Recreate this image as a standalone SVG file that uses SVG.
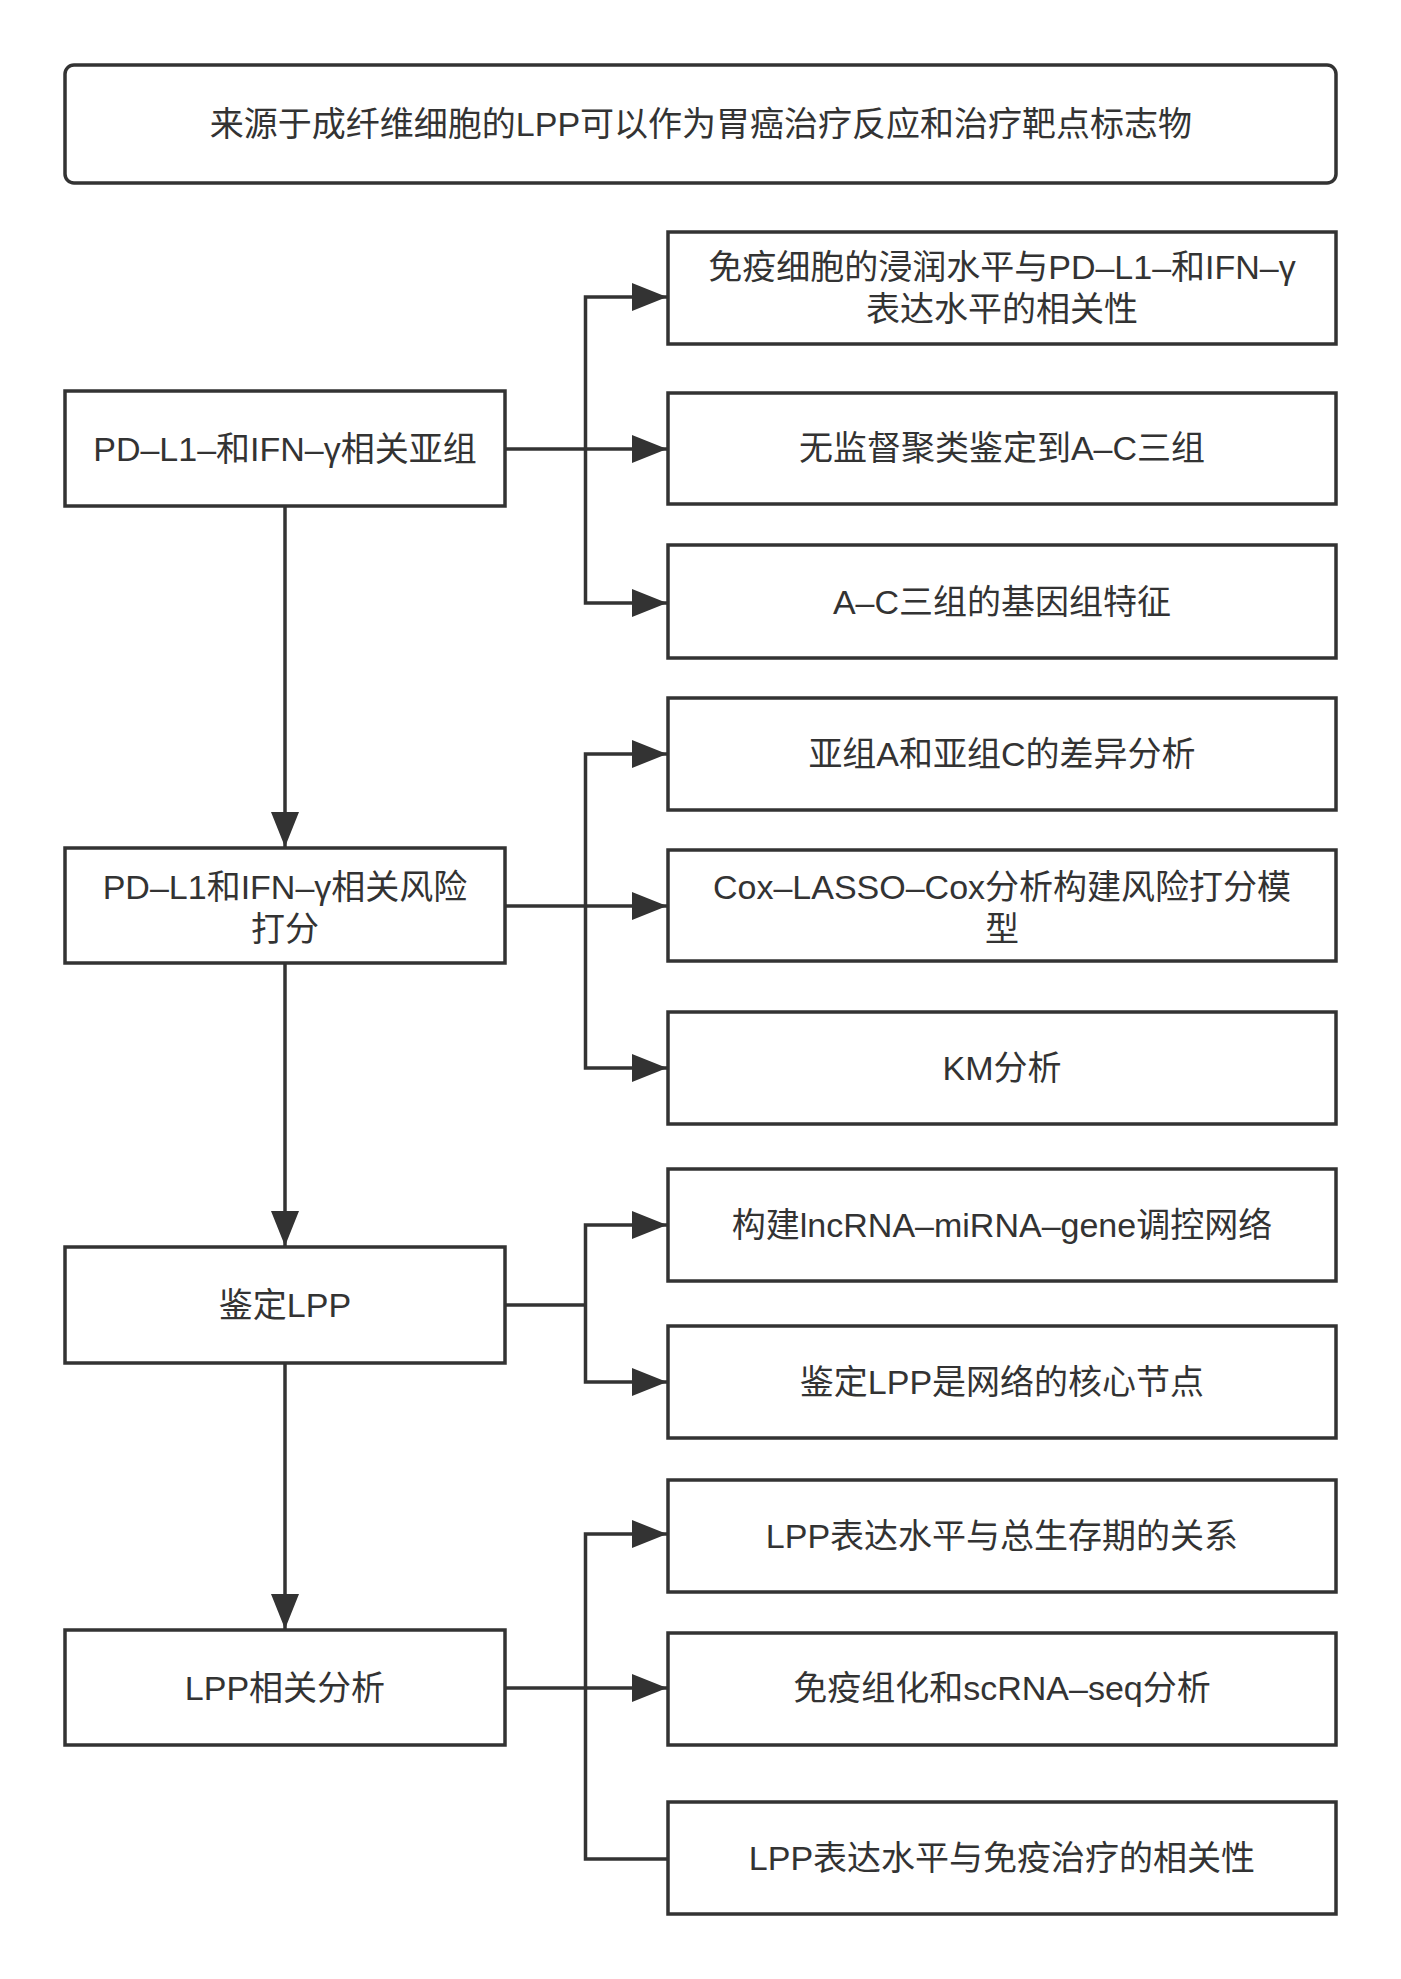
<svg xmlns="http://www.w3.org/2000/svg" width="1401" height="1979" viewBox="0 0 1401 1979">
<defs>
<style>
.box{fill:#ffffff;stroke:#333333;stroke-width:3.5}
.t{font-family:"Liberation Sans","Noto Sans CJK SC",sans-serif;font-size:34px;fill:#333333;text-anchor:middle;dominant-baseline:central}
.c{fill:none;stroke:#333333;stroke-width:3.5}
</style>
<marker id="ah" markerUnits="userSpaceOnUse" markerWidth="36" markerHeight="30" refX="35" refY="15" orient="auto">
<path d="M0,1 L35,15 L0,29 Z" fill="#333333"/>
</marker>
</defs>
<rect width="1401" height="1979" fill="#ffffff"/>

<g id="connectors">
<path class="c" d="M285,507 V847" marker-end="url(#ah)"/>
<path class="c" d="M285,964 V1246" marker-end="url(#ah)"/>
<path class="c" d="M285,1363 V1629" marker-end="url(#ah)"/>
<path class="c" d="M505,449 H667" marker-end="url(#ah)"/>
<path class="c" d="M585.5,449 V297 H667" marker-end="url(#ah)"/>
<path class="c" d="M585.5,449 V603 H667" marker-end="url(#ah)"/>
<path class="c" d="M505,906 H667" marker-end="url(#ah)"/>
<path class="c" d="M585.5,906 V754 H667" marker-end="url(#ah)"/>
<path class="c" d="M585.5,906 V1068 H667" marker-end="url(#ah)"/>
<path class="c" d="M505,1305 H585.5"/>
<path class="c" d="M585.5,1305 V1225 H667" marker-end="url(#ah)"/>
<path class="c" d="M585.5,1305 V1382 H667" marker-end="url(#ah)"/>
<path class="c" d="M505,1688 H667" marker-end="url(#ah)"/>
<path class="c" d="M585.5,1688 V1534 H667" marker-end="url(#ah)"/>
<path class="c" d="M585.5,1688 V1859 H668"/>
</g>

<g id="title">
<rect class="box" x="65" y="65" width="1271" height="118" rx="9"/>
<text class="t" x="701" y="124">来源于成纤维细胞的LPP可以作为胃癌治疗反应和治疗靶点标志物</text>
</g>

<g id="L1">
<rect class="box" x="65" y="391" width="440" height="115"/>
<text class="t" x="285" y="449">PD–L1–和IFN–γ相关亚组</text>
</g>
<g id="L2">
<rect class="box" x="65" y="848" width="440" height="115"/>
<text class="t" x="285" y="887">PD–L1和IFN–γ相关风险</text>
<text class="t" x="285" y="929">打分</text>
</g>
<g id="L3">
<rect class="box" x="65" y="1247" width="440" height="116"/>
<text class="t" x="285" y="1305">鉴定LPP</text>
</g>
<g id="L4">
<rect class="box" x="65" y="1630" width="440" height="115"/>
<text class="t" x="285" y="1688">LPP相关分析</text>
</g>

<g id="R1">
<rect class="box" x="668" y="232" width="668" height="112"/>
<text class="t" x="1002" y="267">免疫细胞的浸润水平与PD–L1–和IFN–γ</text>
<text class="t" x="1002" y="309">表达水平的相关性</text>
</g>
<g id="R2">
<rect class="box" x="668" y="393" width="668" height="111"/>
<text class="t" x="1002" y="448">无监督聚类鉴定到A–C三组</text>
</g>
<g id="R3">
<rect class="box" x="668" y="545" width="668" height="113"/>
<text class="t" x="1002" y="602">A–C三组的基因组特征</text>
</g>
<g id="R4">
<rect class="box" x="668" y="698" width="668" height="112"/>
<text class="t" x="1002" y="754">亚组A和亚组C的差异分析</text>
</g>
<g id="R5">
<rect class="box" x="668" y="850" width="668" height="111"/>
<text class="t" x="1002" y="887">Cox–LASSO–Cox分析构建风险打分模</text>
<text class="t" x="1002" y="929">型</text>
</g>
<g id="R6">
<rect class="box" x="668" y="1012" width="668" height="112"/>
<text class="t" x="1002" y="1068">KM分析</text>
</g>
<g id="R7">
<rect class="box" x="668" y="1169" width="668" height="112"/>
<text class="t" x="1002" y="1225">构建lncRNA–miRNA–gene调控网络</text>
</g>
<g id="R8">
<rect class="box" x="668" y="1326" width="668" height="112"/>
<text class="t" x="1002" y="1382">鉴定LPP是网络的核心节点</text>
</g>
<g id="R9">
<rect class="box" x="668" y="1480" width="668" height="112"/>
<text class="t" x="1002" y="1536">LPP表达水平与总生存期的关系</text>
</g>
<g id="R10">
<rect class="box" x="668" y="1633" width="668" height="112"/>
<text class="t" x="1002" y="1688">免疫组化和scRNA–seq分析</text>
</g>
<g id="R11">
<rect class="box" x="668" y="1802" width="668" height="112"/>
<text class="t" x="1002" y="1858">LPP表达水平与免疫治疗的相关性</text>
</g>
</svg>
